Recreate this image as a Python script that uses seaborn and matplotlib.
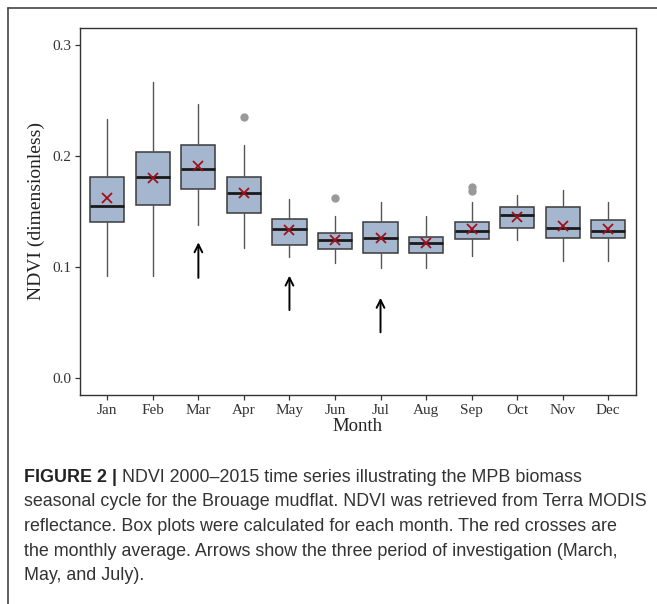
import matplotlib
matplotlib.use("Agg")
import matplotlib.pyplot as plt
import seaborn as sns
import pandas as pd
from matplotlib.lines import Line2D

# monthly NDVI summary
months = ["Jan", "Feb", "Mar", "Apr", "May", "Jun",
          "Jul", "Aug", "Sep", "Oct", "Nov", "Dec"]
whisker_low = [0.092, 0.092, 0.138, 0.117, 0.109, 0.103,
               0.099, 0.099, 0.110, 0.124, 0.105, 0.105]
q1 = [0.140, 0.156, 0.170, 0.148, 0.120, 0.116,
      0.112, 0.112, 0.125, 0.135, 0.126, 0.126]
median = [0.155, 0.181, 0.188, 0.166, 0.134, 0.124,
          0.126, 0.121, 0.132, 0.147, 0.135, 0.132]
q3 = [0.181, 0.203, 0.210, 0.181, 0.143, 0.130,
      0.140, 0.127, 0.140, 0.154, 0.154, 0.142]
whisker_high = [0.233, 0.266, 0.247, 0.210, 0.161, 0.146,
                0.158, 0.146, 0.158, 0.165, 0.169, 0.158]
means = [0.162, 0.180, 0.191, 0.166, 0.133, 0.124,
         0.126, 0.121, 0.134, 0.145, 0.137, 0.134]
outliers = [[], [], [], [0.235], [], [0.162],
            [], [], [0.172, 0.168], [], [], []]

# arrows marking the investigation periods
arrow_months = ["Mar", "May", "Jul"]
arrow_tail = [0.090, 0.061, 0.041]
arrow_head = [0.122, 0.092, 0.072]

caption_bold = "FIGURE 2 |"
caption_lines = [
    " NDVI 2000\u20132015 time series illustrating the MPB biomass",
    "seasonal cycle for the Brouage mudflat. NDVI was retrieved from Terra MODIS",
    "reflectance. Box plots were calculated for each month. The red crosses are",
    "the monthly average. Arrows show the three period of investigation (March,",
    "May, and July).",
]

sns.set_theme(style="white")
plt.rcParams["font.family"] = ["Liberation Serif", "DejaVu Serif"]

fig = plt.figure(figsize=(6.57, 6.04), dpi=100)
ax = fig.add_axes([80 / 657, 1 - 394.5 / 604, 555.5 / 657, 366.5 / 604])

df = pd.DataFrame({"month": months, "mean": means})
sns.pointplot(data=df, x="month", y="mean", order=months, linestyle="none",
              markers="x", color="#a0101a", markersize=7.5, markeredgewidth=1.3,
              errorbar=None, ax=ax, zorder=5)

stats = []
for i, m in enumerate(months):
    stats.append({"med": median[i], "q1": q1[i], "q3": q3[i],
                  "whislo": whisker_low[i], "whishi": whisker_high[i],
                  "fliers": outliers[i], "label": m})
ax.bxp(stats, positions=range(len(months)), widths=0.75, patch_artist=True,
       showfliers=True, manage_ticks=False,
       boxprops=dict(facecolor="#a5b7cf", edgecolor="#3a3a3a", linewidth=1.1),
       medianprops=dict(color="#1a1a1a", linewidth=2.0),
       whiskerprops=dict(color="#555555", linewidth=1.0),
       capprops=dict(linewidth=0),
       flierprops=dict(marker="o", markerfacecolor="#999999",
                       markeredgecolor="#999999", markersize=5))
for coll in ax.collections:
    coll.set_zorder(5)

for m, t, h in zip(arrow_months, arrow_tail, arrow_head):
    x = months.index(m)
    ax.annotate("", xy=(x, h), xytext=(x, t),
                arrowprops=dict(arrowstyle="->", color="black", lw=1.4,
                                mutation_scale=14, shrinkA=0, shrinkB=0))

ax.set_xlim(-0.6, 11.6)
ax.set_ylim(-0.015, 0.315)
ax.set_yticks([0.0, 0.1, 0.2, 0.3])
ax.set_yticklabels(["0.0", "0.1", "0.2", "0.3"])
ax.set_xticks(range(len(months)))
ax.set_xticklabels(months)
ax.tick_params(axis="both", which="both", length=3.5, width=0.9, color="#333333",
               labelsize=11, labelcolor="#333333", pad=3, bottom=True, left=True)
for s in ax.spines.values():
    s.set_color("#333333")
    s.set_linewidth(1.0)
ax.set_xlabel("Month", fontsize=13.5, color="#222222", labelpad=1)
ax.set_ylabel("NDVI (dimensionless)", fontsize=14, color="#222222", labelpad=5)

# outer frame of the figure panel
fig.add_artist(Line2D([8 / 657, 1], [1 - 8 / 604, 1 - 8 / 604], color="#444444", lw=1.2))
fig.add_artist(Line2D([8 / 657, 8 / 657], [0, 1 - 8 / 604], color="#444444", lw=1.2))

# caption
cap_font = ["Liberation Sans", "DejaVu Sans"]
cap_size = 12.9
x0 = 24 / 657
line_y = [477, 502, 526.5, 551, 575.5]
bold = fig.text(x0, 1 - line_y[0] / 604, caption_bold, fontsize=cap_size, fontweight="bold",
                family=cap_font, color="#222222", va="center", ha="left")
fig.canvas.draw()
bb = bold.get_window_extent(renderer=fig.canvas.get_renderer())
fig.text(bb.x1 / fig.bbox.width, 1 - line_y[0] / 604, caption_lines[0], fontsize=cap_size,
         family=cap_font, color="#333333", va="center", ha="left")
for y, line in zip(line_y[1:], caption_lines[1:]):
    fig.text(x0, 1 - y / 604, line, fontsize=cap_size, family=cap_font,
             color="#333333", va="center", ha="left")

fig.savefig("out.png", dpi=100)
